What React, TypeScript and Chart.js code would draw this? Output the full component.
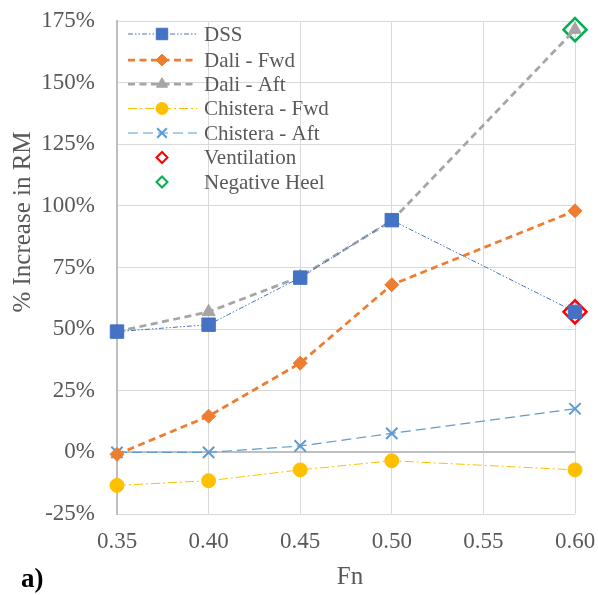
import React, { useEffect, useRef } from "react";
import { Chart, registerables } from "chart.js";

Chart.register(...registerables);

const fnValues = [0.35, 0.4, 0.45, 0.5, 0.6];
const dss = [49, 51.8, 70.9, 94.2, 57];
const daliFwd = [-0.8, 14.7, 36.2, 68, 98];
const daliAft = [49, 57, 71.2, 94, 171.5];
const chisteraFwd = [-13.4, -11.5, -7.1, -3.4, -7.1];
const chisteraAft = [0, 0, 2.6, 7.7, 17.7];
const ventilationFn = [0.6];
const ventilation = [57];
const negHeelFn = [0.6];
const negHeel = [171.5];
const seriesNames = ["DSS", "Dali - Fwd", "Dali - Aft", "Chistera - Fwd", "Chistera - Aft", "Ventilation", "Negative Heel"];
const xTicks = { min: 0.35, max: 0.6, step: 0.05 };
const yTicks = { min: -25, max: 175, step: 25 };
const xTitle = "Fn";
const yTitle = "% Increase in RM";
const panelLabel = "a)";

const FONT = "'Liberation Serif', 'Times New Roman', serif";
const GREY = "#595959";

const pts = (xs: number[], ys: number[]) => xs.map((x, i) => ({ x, y: ys[i] }));

type Style = {
  color: string;
  width: number;
  dash: number[];
  marker: string;
  radius: number;
  fill: boolean;
  markerWidth: number;
  showLine: boolean;
};

const styles: Style[] = [
  { color: "#4472C4", width: 1, dash: [5, 2, 1.5, 2, 1.5, 2], marker: "rect", radius: 9.5, fill: true, markerWidth: 1, showLine: true },
  { color: "#ED7D31", width: 2.75, dash: [7, 4.5], marker: "rectRot", radius: 7, fill: true, markerWidth: 1, showLine: true },
  { color: "#A5A5A5", width: 2.75, dash: [7, 4.5], marker: "triangle", radius: 7.5, fill: true, markerWidth: 1, showLine: true },
  { color: "#FFC000", width: 1, dash: [9, 3, 2, 3], marker: "circle", radius: 7, fill: true, markerWidth: 1, showLine: true },
  { color: "#5B9BD5", width: 1.2, dash: [10, 5], marker: "crossRot", radius: 8, fill: false, markerWidth: 2, showLine: true },
  { color: "#FF0000", width: 0, dash: [], marker: "rectRot", radius: 11.5, fill: false, markerWidth: 2.5, showLine: false },
  { color: "#00B050", width: 0, dash: [], marker: "rectRot", radius: 11.5, fill: false, markerWidth: 2.5, showLine: false },
];

function drawMarker(ctx: CanvasRenderingContext2D, kind: string, x: number, y: number, r: number, color: string, fill: boolean, lw: number) {
  ctx.save();
  ctx.setLineDash([]);
  ctx.beginPath();
  if (kind === "rect") {
    const s = r * Math.SQRT1_2;
    ctx.rect(x - s, y - s, 2 * s, 2 * s);
  } else if (kind === "rectRot") {
    ctx.moveTo(x - r, y);
    ctx.lineTo(x, y - r);
    ctx.lineTo(x + r, y);
    ctx.lineTo(x, y + r);
    ctx.closePath();
  } else if (kind === "triangle") {
    ctx.moveTo(x, y - r);
    ctx.lineTo(x + r * 0.866, y + r / 2);
    ctx.lineTo(x - r * 0.866, y + r / 2);
    ctx.closePath();
  } else if (kind === "circle") {
    ctx.arc(x, y, r, 0, Math.PI * 2);
  } else if (kind === "crossRot") {
    const s = r * Math.SQRT1_2;
    ctx.moveTo(x - s, y - s);
    ctx.lineTo(x + s, y + s);
    ctx.moveTo(x + s, y - s);
    ctx.lineTo(x - s, y + s);
  }
  ctx.lineWidth = lw;
  ctx.strokeStyle = color;
  if (fill) {
    ctx.fillStyle = color;
    ctx.fill();
  }
  ctx.stroke();
  ctx.restore();
}

const overlayPlugin = {
  id: "overlay",
  afterDraw(chart: any) {
    const ctx: CanvasRenderingContext2D = chart.ctx;
    // Legend
    const rows = [34, 60, 84, 108.5, 133, 157.5, 182];
    seriesNames.forEach((name, i) => {
      const st = styles[i];
      const y = rows[i];
      ctx.save();
      if (st.showLine) {
        ctx.beginPath();
        ctx.setLineDash(st.dash);
        ctx.lineWidth = st.width;
        ctx.strokeStyle = st.color;
        ctx.moveTo(128, y);
        ctx.lineTo(197, y);
        ctx.stroke();
        drawMarker(ctx, st.marker, 162, y, st.radius * 0.85, st.color, st.fill, st.markerWidth);
      } else {
        drawMarker(ctx, st.marker, 162, y, 5.5, st.color, false, 2);
      }
      ctx.fillStyle = GREY;
      ctx.font = `21px ${FONT}`;
      ctx.textAlign = "left";
      ctx.textBaseline = "middle";
      ctx.fillText(name, 204, y + 1);
      ctx.restore();
    });
    // Axis titles
    ctx.save();
    ctx.fillStyle = GREY;
    ctx.font = `25px ${FONT}`;
    ctx.textAlign = "center";
    ctx.textBaseline = "middle";
    const area = chart.chartArea;
    ctx.fillText(xTitle, (area.left + area.right) / 2 + 4, 577);
    ctx.translate(23, 222);
    ctx.rotate(-Math.PI / 2);
    ctx.fillText(yTitle, 0, 0);
    ctx.restore();
    // Panel label
    ctx.save();
    ctx.fillStyle = "#000000";
    ctx.font = `bold 27px ${FONT}`;
    ctx.textAlign = "left";
    ctx.textBaseline = "alphabetic";
    ctx.fillText(panelLabel, 21, 587);
    ctx.restore();
  },
};

const zeroPad = (s: any) => {
  s.paddingTop = 0;
  s.paddingBottom = 0;
  s.paddingLeft = 0;
  s.paddingRight = 0;
};

export default function App() {
  const ref = useRef<HTMLCanvasElement>(null);
  useEffect(() => {
    if (!ref.current) return;
    const dataSets = [
      pts(fnValues, dss),
      pts(fnValues, daliFwd),
      pts(fnValues, daliAft),
      pts(fnValues, chisteraFwd),
      pts(fnValues, chisteraAft),
      pts(ventilationFn, ventilation),
      pts(negHeelFn, negHeel),
    ];
    const chart = new Chart(ref.current, {
      type: "scatter",
      data: {
        datasets: dataSets.map((d, i) => {
          const st = styles[i];
          return {
            label: seriesNames[i],
            data: d,
            showLine: st.showLine,
            clip: false,
            borderColor: st.color,
            borderWidth: st.width,
            borderDash: st.dash,
            backgroundColor: st.fill ? st.color : "rgba(0,0,0,0)",
            pointStyle: st.marker,
            pointRadius: st.radius,
            pointHoverRadius: st.radius,
            pointBorderColor: st.color,
            pointBackgroundColor: st.fill ? st.color : "rgba(0,0,0,0)",
            pointBorderWidth: st.markerWidth,
            tension: 0,
          } as any;
        }),
      },
      options: {
        animation: false,
        responsive: true,
        maintainAspectRatio: false,
        layout: { autoPadding: false, padding: { top: 21, right: 23, left: 0, bottom: 0 } },
        plugins: { legend: { display: false }, tooltip: { enabled: false } },
        scales: {
          x: {
            type: "linear",
            min: xTicks.min,
            max: xTicks.max,
            afterFit: (s: any) => {
              s.height = 81;
              zeroPad(s);
            },
            ticks: {
              stepSize: xTicks.step,
              color: GREY,
              font: { family: FONT, size: 23 },
              padding: 14,
              callback: (v: any) => Number(v).toFixed(2),
            },
            grid: { color: "#D9D9D9", lineWidth: 1, drawTicks: false },
            border: { display: false },
          },
          y: {
            type: "linear",
            min: yTicks.min,
            max: yTicks.max,
            afterFit: (s: any) => {
              s.width = 117;
              zeroPad(s);
            },
            ticks: {
              stepSize: yTicks.step,
              color: GREY,
              font: { family: FONT, size: 23 },
              padding: 22,
              callback: (v: any) => `${v}%`,
            },
            grid: {
              color: (c: any) => (c.tick && c.tick.value === 0 ? "#BFBFBF" : "#D9D9D9"),
              lineWidth: (c: any) => (c.tick && c.tick.value === 0 ? 2 : 1),
              drawTicks: false,
            },
            border: { display: true, color: "#BFBFBF", width: 2 },
          },
        },
      },
      plugins: [overlayPlugin],
    });
    return () => chart.destroy();
  }, []);
  return (
    <div style={{ position: "absolute", left: 0, top: 0, width: 598, height: 595, background: "#fff" }}>
      <canvas ref={ref} />
    </div>
  );
}
